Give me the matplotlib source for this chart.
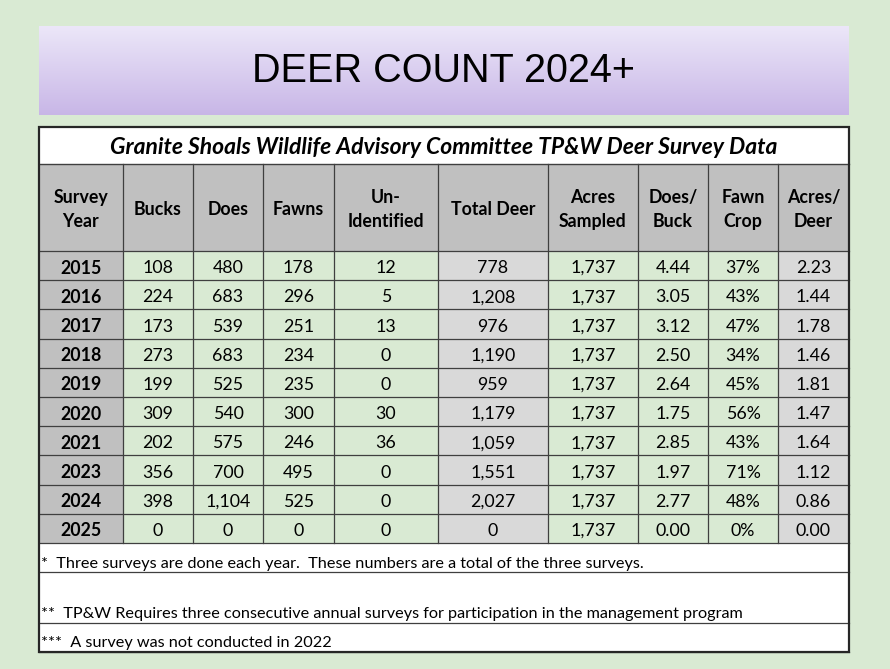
import numpy as np
import matplotlib
matplotlib.use("Agg")
from matplotlib import pyplot as plt
from matplotlib.patches import Rectangle

# table data
headers = ["Survey\nYear", "Bucks", "Does", "Fawns", "Un-\nIdentified", "Total Deer",
           "Acres\nSampled", "Does/\nBuck", "Fawn\nCrop", "Acres/\nDeer"]
years = [2015, 2016, 2017, 2018, 2019, 2020, 2021, 2023, 2024, 2025]
bucks = [108, 224, 173, 273, 199, 309, 202, 356, 398, 0]
does = [480, 683, 539, 683, 525, 540, 575, 700, 1104, 0]
fawns = [178, 296, 251, 234, 235, 300, 246, 495, 525, 0]
unidentified = [12, 5, 13, 0, 0, 30, 36, 0, 0, 0]
total_deer = [778, 1208, 976, 1190, 959, 1179, 1059, 1551, 2027, 0]
acres_sampled = [1737] * 10
does_per_buck = [4.44, 3.05, 3.12, 2.50, 2.64, 1.75, 2.85, 1.97, 2.77, 0.00]
fawn_crop = [37, 43, 47, 34, 45, 56, 43, 71, 48, 0]
acres_per_deer = [2.23, 1.44, 1.78, 1.46, 1.81, 1.47, 1.64, 1.12, 0.86, 0.00]

title = "DEER COUNT 2024+"
subtitle = "Granite Shoals Wildlife Advisory Committee TP&W Deer Survey Data"
notes = ["*  Three surveys are done each year.  These numbers are a total of the three surveys.",
         "**  TP&W Requires three consecutive annual surveys for participation in the management program",
         "***  A survey was not conducted in 2022"]

# column edges and row edges in pixels
col_x = [39, 123, 193, 263, 334, 438, 548, 638, 708, 778, 849]
top, sub_bot, head_bot, row_h = 127, 164, 251, 29.2
note_rows = [(543, 572), (572, 623), (623, 652)]

bg = "#d9ead3"
gray_dark = "#c0c0c0"
gray_light = "#d9d9d9"
line_c = "#3f3f3f"

fig = plt.figure(figsize=(8.9, 6.69), dpi=100)
fig.patch.set_facecolor(bg)
ax = fig.add_axes([0, 0, 1, 1])
ax.set_xlim(0, 890)
ax.set_ylim(669, 0)
ax.axis("off")

# title banner with vertical gradient
grad = np.linspace(0, 1, 100).reshape(-1, 1)
c_top = np.array([0.925, 0.905, 0.975])
c_bot = np.array([0.785, 0.715, 0.905])
img = c_top + (c_bot - c_top) * grad[:, :, None]
ax.imshow(img, extent=(39, 849, 115, 26), aspect="auto", zorder=1)
ax.text(444, 71, title, ha="center", va="center", fontsize=28.5,
        family="Liberation Sans", color="black", zorder=3)

# table background
ax.add_patch(Rectangle((39, top), 810, 652 - top, facecolor="white", edgecolor="none", zorder=1))
ax.add_patch(Rectangle((39, sub_bot), 810, head_bot - sub_bot, facecolor=gray_dark,
                       edgecolor="none", zorder=1))
ax.text(444, (top + sub_bot) / 2 + 2, subtitle, ha="center", va="center", fontsize=16.5,
        family="Lato", weight="bold", style="italic", zorder=3)

for j, h in enumerate(headers):
    cx = (col_x[j] + col_x[j + 1]) / 2
    ax.text(cx, (sub_bot + head_bot) / 2 + 2, h, ha="center", va="center", fontsize=12.8,
            family="Lato", weight="bold", linespacing=1.45, zorder=3)

columns = [
    [str(y) for y in years],
    [f"{v:,}" for v in bucks],
    [f"{v:,}" for v in does],
    [f"{v:,}" for v in fawns],
    [f"{v:,}" for v in unidentified],
    [f"{v:,}" for v in total_deer],
    [f"{v:,}" for v in acres_sampled],
    [f"{v:.2f}" for v in does_per_buck],
    [f"{v}%" for v in fawn_crop],
    [f"{v:.2f}" for v in acres_per_deer],
]
fills = [gray_dark, bg, bg, bg, bg, gray_light, bg, bg, bg, gray_light]

for j, col in enumerate(columns):
    x0, x1 = col_x[j], col_x[j + 1]
    for i, s in enumerate(col):
        y0 = head_bot + i * row_h
        ax.add_patch(Rectangle((x0, y0), x1 - x0, row_h, facecolor=fills[j],
                               edgecolor="none", zorder=1))
        ax.text((x0 + x1) / 2, y0 + row_h / 2 + 2.5, s, ha="center", va="center",
                fontsize=12.8, family="Lato", weight="bold" if j == 0 else "normal", zorder=3)

# grid lines
data_bot = head_bot + len(years) * row_h
for x in col_x[1:-1]:
    ax.plot([x, x], [sub_bot, data_bot], color=line_c, lw=0.9, zorder=2)
for i in range(len(years) + 1):
    y = head_bot + i * row_h
    ax.plot([39, 849], [y, y], color=line_c, lw=0.9, zorder=2)
ax.plot([39, 849], [sub_bot, sub_bot], color=line_c, lw=1.0, zorder=2)
for y0, y1 in note_rows:
    ax.plot([39, 849], [y1, y1], color=line_c, lw=0.9, zorder=2)

# footnotes
ax.text(41, 564, notes[0], ha="left", va="center", fontsize=11.7, family="Lato", zorder=3)
ax.text(41, 614, notes[1], ha="left", va="center", fontsize=11.7, family="Lato", zorder=3)
ax.text(41, 643, notes[2], ha="left", va="center", fontsize=11.7, family="Lato", zorder=3)

# outer border
ax.add_patch(Rectangle((39, top), 810, 652 - top, facecolor="none", edgecolor="#262626",
                       lw=1.6, zorder=4))

fig.savefig("out.png", dpi=100, facecolor=bg)
